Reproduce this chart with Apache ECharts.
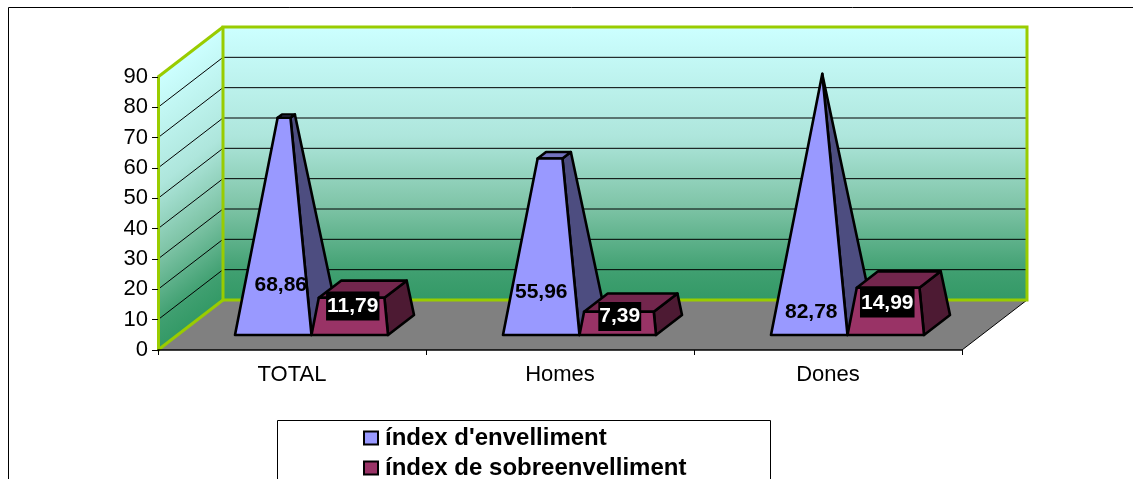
<!DOCTYPE html>
<html><head><meta charset="utf-8">
<style>html,body{margin:0;padding:0;background:#fff;overflow:hidden}#c{width:1133px;height:479px}</style>
<script src="https://cdn.jsdelivr.net/npm/echarts@6/dist/echarts.min.js"></script>
</head><body><div id="c"></div>
<script>
const categories = ['TOTAL', 'Homes', 'Dones'];
const indexEnvelliment = [68.86, 55.96, 82.78];
const indexSobreenvelliment = [11.79, 7.39, 14.99];
const seriesNames = ["índex d'envelliment", 'índex de sobreenvelliment'];
const wallTicks = [10, 20, 30, 40, 50, 60, 70, 80];

// layout constants of the 3D look
const FONT = '"Liberation Sans", Arial, sans-serif';
const DEPTH_X = 65, DEPTH_Y = -50;
const BAR_W = 0.2855, D_FRONT = 0.3, D_BACK = 0.7;
const labelOffsetA = [[7.5, -50], [0, -43], [2, -23]];
const labelOffsetB = [[3, -29], [2, -18.5], [1.5, -32]];
const vMax = Math.max(...indexEnvelliment, ...indexSobreenvelliment);

const wallStops = [
  {offset: 0, color: '#CCFFFF'}, {offset: 0.4, color: '#AEE6DC'},
  {offset: 0.65, color: '#80C5A8'}, {offset: 0.9, color: '#3F9F70'}, {offset: 1, color: '#339966'}
];

function renderWalls(params, api) {
  const r = params.coordSys;
  const L = r.x, T = r.y, R = r.x + r.width, B = r.y + r.height;
  const H = r.height;
  const p = (x, y) => [x + DEPTH_X, y + DEPTH_Y];
  const len2 = DEPTH_X * DEPTH_X + DEPTH_Y * DEPTH_Y;
  const k = H * DEPTH_X / len2;
  const leftGrad = {type: 'linear', global: true, x: L, y: T, x2: L + k * (-DEPTH_Y), y2: T + k * DEPTH_X, colorStops: wallStops};
  const backGrad = {type: 'linear', x: 0, y: 0, x2: 0, y2: 1, colorStops: wallStops};
  const green = '#99CC00';
  const kids = [];
  const poly = (points, style) => kids.push({type: 'polygon', shape: {points}, style});
  const line = (a, b, stroke, lineWidth) => kids.push({type: 'line', shape: {x1: a[0], y1: a[1], x2: b[0], y2: b[1]}, style: {stroke, lineWidth, fill: null}});
  poly([[L, B], p(L, B), p(R, B), [R, B]], {fill: '#808080'});
  poly([[L, T], p(L, T), p(L, B), [L, B]], {fill: leftGrad});
  poly([p(L, T), p(R, T), p(R, B), p(L, B)], {fill: backGrad});
  wallTicks.forEach(v => {
    const y = api.coord([0, v])[1];
    line([L, y], p(L, y), '#000', 1);
    line(p(L, y), p(R, y), '#000', 1);
  });
  line([R, B], p(R, B), '#000', 1);
  line([L, T], p(L, T), green, 3);
  line([L, B], p(L, B), green, 3);
  kids.push({type: 'polygon', shape: {points: [p(L, T), p(R, T), p(R, B), p(L, B)]}, style: {fill: null, stroke: green, lineWidth: 3}});
  return {type: 'group', children: kids};
}

function makeRender(u0, u1, faces, offsets, textStyle) {
  return function (params, api) {
    const i = api.value(0), v = api.value(1);
    const band = api.size([1, 0])[0];
    const t = v / vMax;
    const uc = (u0 + u1) / 2, dc = (D_FRONT + D_BACK) / 2;
    const at = (u, d, val, tt) => {
      const c = api.coord([i, val]);
      const uu = u + (uc - u) * tt, dd = d + (dc - d) * tt;
      return [c[0] + uu * band + dd * DEPTH_X, c[1] + dd * DEPTH_Y];
    };
    const lb = at(u0, D_FRONT, 0, 0), rb = at(u1, D_FRONT, 0, 0), rbb = at(u1, D_BACK, 0, 0);
    const lt = at(u0, D_FRONT, v, t), rt = at(u1, D_FRONT, v, t), rbt = at(u1, D_BACK, v, t), lbt = at(u0, D_BACK, v, t);
    const st = fill => ({fill, stroke: '#000', lineWidth: 2.6, lineJoin: 'round'});
    const cx = (lb[0] + rb[0]) / 2, off = offsets[i];
    return {type: 'group', children: [
      {type: 'polygon', shape: {points: [rb, rbb, rbt, rt]}, style: st(faces[1])},
      {type: 'polygon', shape: {points: [lt, rt, rbt, lbt]}, style: st(faces[2])},
      {type: 'polygon', shape: {points: [lb, rb, rt, lt]}, style: st(faces[0])},
      {type: 'text', z2: 10, style: Object.assign({
        text: v.toFixed(2).replace('.', ','), x: cx + off[0], y: lb[1] + off[1],
        align: 'center', verticalAlign: 'middle', font: 'bold 21px ' + FONT
      }, textStyle)}
    ]};
  };
}

const chart = echarts.init(document.getElementById('c'), null, {renderer: 'canvas'});
chart.setOption({
  animation: false,
  backgroundColor: '#fff',
  grid: {left: 158, top: 77, width: 804, height: 273, containLabel: false},
  xAxis: {
    type: 'category', data: categories, z: 3,
    axisLine: {lineStyle: {color: '#000', width: 1.5}},
    axisTick: {show: true, length: 5, lineStyle: {color: '#000'}},
    axisLabel: {color: '#000', fontFamily: FONT, fontSize: 22, margin: 14}
  },
  yAxis: {
    type: 'value', min: 0, max: 90, interval: 10, z: 3,
    axisLine: {show: true, lineStyle: {color: '#99CC00', width: 3}},
    axisTick: {show: true, length: 6, lineStyle: {color: '#000'}},
    axisLabel: {color: '#000', fontFamily: FONT, fontSize: 22, margin: 10},
    splitLine: {show: false}
  },
  legend: {
    left: 363, top: 426, height: 70, padding: 0, orient: 'vertical', icon: 'rect',
    itemWidth: 14, itemHeight: 13, itemGap: 6,
    textStyle: {color: '#000', fontFamily: FONT, fontWeight: 'bold', fontSize: 24, padding: [0, 0, 0, 2]},
    data: [
      {name: seriesNames[0], itemStyle: {color: '#9999FF', borderColor: '#000', borderWidth: 2}},
      {name: seriesNames[1], itemStyle: {color: '#993366', borderColor: '#000', borderWidth: 2}}
    ]
  },
  graphic: [
    {type: 'rect', silent: true, z: 0, shape: {x: 8.5, y: 7.5, width: 1300, height: 600}, style: {fill: null, stroke: '#000', lineWidth: 1}},
    {type: 'rect', silent: true, z: 0, shape: {x: 277.5, y: 420.5, width: 493, height: 120}, style: {fill: '#fff', stroke: '#000', lineWidth: 1}}
  ],
  series: [
    {type: 'custom', name: 'walls', coordinateSystem: 'cartesian2d', silent: true, z: 1, data: [[0, 0]], encode: {x: 0, y: 1}, renderItem: renderWalls},
    {type: 'custom', name: seriesNames[0], coordinateSystem: 'cartesian2d', z: 2,
      itemStyle: {color: '#9999FF'}, encode: {x: 0, y: 1},
      data: indexEnvelliment.map((v, i) => [i, v]),
      renderItem: makeRender(-BAR_W, 0, ['#9999FF', '#4D4D80', '#7373BF'], labelOffsetA, {fill: '#000'})},
    {type: 'custom', name: seriesNames[1], coordinateSystem: 'cartesian2d', z: 3,
      itemStyle: {color: '#993366'}, encode: {x: 0, y: 1},
      data: indexSobreenvelliment.map((v, i) => [i, v]),
      renderItem: makeRender(0, BAR_W, ['#993366', '#4D1A33', '#73264D'], labelOffsetB, {fill: '#fff', backgroundColor: '#000', padding: [4, 1, 4, 1]})}
  ]
});
</script></body></html>
